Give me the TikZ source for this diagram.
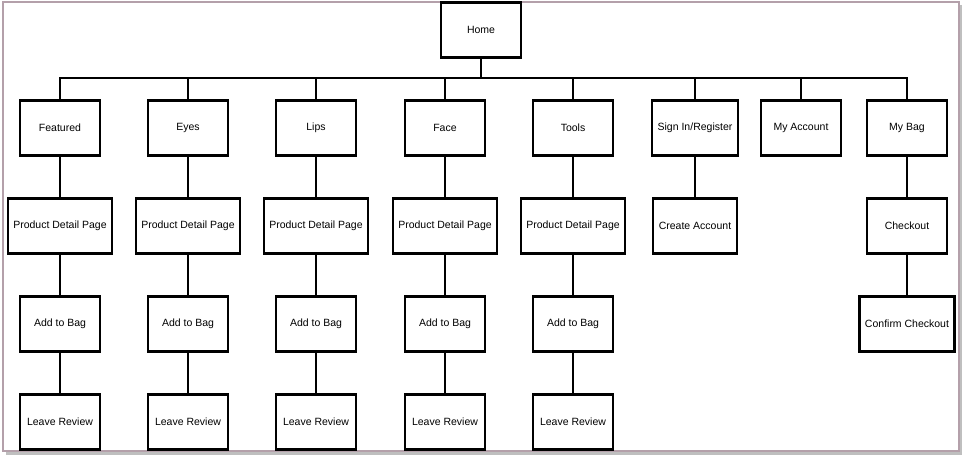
\documentclass[tikz,border=0pt]{standalone}
\usepackage{fontspec}
\setmainfont{Liberation Sans}
\definecolor{framecol}{RGB}{180,160,170}

\begin{document}
\begin{tikzpicture}[x=1pt,y=-1pt]
                        \tikzstyle{page}=[draw, line width=2.2pt, fill=white, minimum width=80pt, minimum height=55pt, inner xsep=5.5pt, font=\fontsize{10.5}{12}\selectfont]
                        \tikzstyle{link}=[line width=1.6pt]
                        \useasboundingbox (0,0) rectangle (964,458);
                        % frame with shadow
                        \fill[black!25] (6,5) rectangle (962,455);
                        \fill[white] (3,2) rectangle (959,451);
                        \draw[framecol, line width=1.3pt] (3,2) rectangle (959,451);
                        % pages
                        \node[page] (home) at (481,30) {Home};
                        \node[page] (featured) at (60,128) {Featured};
                        \node[page] (eyes) at (188,128) {Eyes};
                        \node[page] (lips) at (316,128) {Lips};
                        \node[page] (face) at (445,128) {Face};
                        \node[page] (tools) at (573,128) {Tools};
                        \node[page] (signin) at (695,128) {Sign In/Register};
                        \node[page] (account) at (801,128) {My Account};
                        \node[page] (bag) at (907,128) {My Bag};
                        \node[page] (featpdp) at (60,226) {Product Detail Page};
                        \node[page] (eyespdp) at (188,226) {Product Detail Page};
                        \node[page] (lipspdp) at (316,226) {Product Detail Page};
                        \node[page] (facepdp) at (445,226) {Product Detail Page};
                        \node[page] (toolspdp) at (573,226) {Product Detail Page};
                        \node[page] (create) at (695,226) {Create Account};
                        \node[page] (checkout) at (907,226) {Checkout};
                        \node[page] (featadd) at (60,324) {Add to Bag};
                        \node[page] (eyesadd) at (188,324) {Add to Bag};
                        \node[page] (lipsadd) at (316,324) {Add to Bag};
                        \node[page] (faceadd) at (445,324) {Add to Bag};
                        \node[page] (toolsadd) at (573,324) {Add to Bag};
                        \node[page] (confirm) at (907,324) {Confirm Checkout};
                        \node[page] (featrev) at (60,422) {Leave Review};
                        \node[page] (eyesrev) at (188,422) {Leave Review};
                        \node[page] (lipsrev) at (316,422) {Leave Review};
                        \node[page] (facerev) at (445,422) {Leave Review};
                        \node[page] (toolsrev) at (573,422) {Leave Review};
                        % bus under home
                        \coordinate (bus) at (481,78);
                        \draw[link] (home) -- (bus);
                        \draw[link] (featured) -- (featured |- bus) -- (bag |- bus) -- (bag);
                        \draw[link] (eyes) -- (eyes |- bus);
                        \draw[link] (lips) -- (lips |- bus);
                        \draw[link] (face) -- (face |- bus);
                        \draw[link] (tools) -- (tools |- bus);
                        \draw[link] (signin) -- (signin |- bus);
                        \draw[link] (account) -- (account |- bus);
                        % columns
                        \draw[link] (featured) -- (featpdp) -- (featadd) -- (featrev);
                        \draw[link] (eyes) -- (eyespdp) -- (eyesadd) -- (eyesrev);
                        \draw[link] (lips) -- (lipspdp) -- (lipsadd) -- (lipsrev);
                        \draw[link] (face) -- (facepdp) -- (faceadd) -- (facerev);
                        \draw[link] (tools) -- (toolspdp) -- (toolsadd) -- (toolsrev);
                        \draw[link] (signin) -- (create);
                        \draw[link] (bag) -- (checkout) -- (confirm);
                    \end{tikzpicture}
\end{document}
